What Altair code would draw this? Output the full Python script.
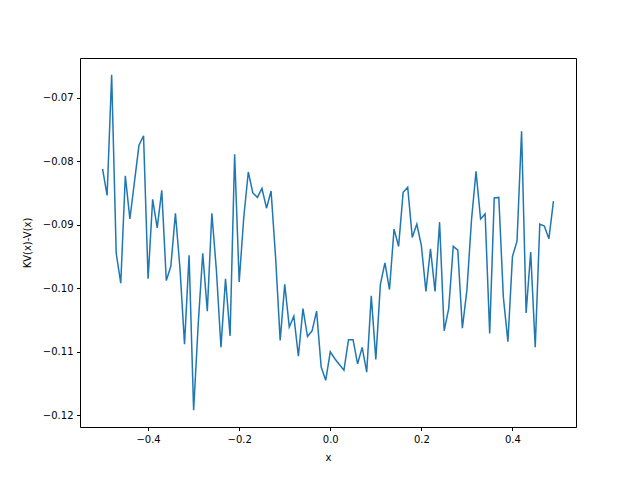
import altair as alt
import pandas as pd

x_vals = [round(-0.5 + 0.01 * i, 2) for i in range(100)]
y_vals = [
    -0.0812, -0.0854, -0.0664, -0.0945, -0.0992, -0.0823, -0.0891, -0.0833, -0.0775, -0.0760,
    -0.0985, -0.0860, -0.0905, -0.0846, -0.0988, -0.0965, -0.0882, -0.0969, -0.1088, -0.0948,
    -0.1192, -0.1057, -0.0945, -0.1036, -0.0882, -0.0972, -0.1093, -0.0985, -0.1075, -0.0789,
    -0.0990, -0.0889, -0.0817, -0.0850, -0.0857, -0.0843, -0.0874, -0.0847, -0.0952, -0.1082,
    -0.0994, -0.1061, -0.1044, -0.1107, -0.1032, -0.1076, -0.1067, -0.1036, -0.1124, -0.1145,
    -0.1100, -0.1111, -0.1120, -0.1129, -0.1081, -0.1081, -0.1119, -0.1093, -0.1132, -0.1012,
    -0.1112, -0.0994, -0.0960, -0.1002, -0.0907, -0.0934, -0.0849, -0.0841, -0.0920, -0.0899,
    -0.0933, -0.1005, -0.0938, -0.1005, -0.0896, -0.1067, -0.1032, -0.0934, -0.0940, -0.1063,
    -0.1003, -0.0893, -0.0816, -0.0891, -0.0883, -0.1071, -0.0858, -0.0857, -0.1014, -0.1084,
    -0.0950, -0.0926, -0.0753, -0.1039, -0.0943, -0.1093, -0.0899, -0.0902, -0.0922, -0.0863,
]
x_ticks = [-0.4, -0.2, 0.0, 0.2, 0.4]
y_ticks = [-0.07, -0.08, -0.09, -0.10, -0.11, -0.12]

df = pd.DataFrame({"x": x_vals, "y": y_vals})

xscale = alt.Scale(domain=[-0.5495, 0.5395], nice=False, zero=False)
yscale = alt.Scale(domain=[-0.12184, -0.06376], nice=False, zero=False)

axis_common = dict(
    tickSize=3.5, tickColor="black", tickWidth=1,
    domain=True, domainColor="black", domainWidth=1, grid=False,
    labelFont="DejaVu Sans", labelFontSize=10, labelColor="black",
    titleFont="DejaVu Sans", titleFontSize=10, titleFontWeight="normal", titleColor="black",
    labelPadding=3.5,
)

main = alt.Chart(df).mark_line(color="#1f77b4", strokeWidth=1.5).encode(
    x=alt.X("x:Q", title="x", scale=xscale,
            axis=alt.Axis(values=x_ticks, titlePadding=8,
                          labelExpr="replace(format(datum.value, '.1f'), '-', '\u2212')",
                          **axis_common)),
    y=alt.Y("y:Q", title="KV(x)-V(x)", scale=yscale,
            axis=alt.Axis(values=y_ticks, titlePadding=10,
                          labelExpr="replace(format(datum.value, '.2f'), '-', '\u2212')",
                          **axis_common)),
)

frame = alt.Chart(df).mark_point(opacity=0, size=0).encode(
    x=alt.X("x:Q", scale=xscale,
            axis=alt.Axis(orient="top", title=None, labels=False, ticks=False,
                          domain=True, domainColor="black", domainWidth=1, grid=False)),
    y=alt.Y("y:Q", scale=yscale,
            axis=alt.Axis(orient="right", title=None, labels=False, ticks=False,
                          domain=True, domainColor="black", domainWidth=1, grid=False)),
)

chart = alt.layer(main, frame).resolve_axis(x="independent", y="independent").properties(
    width=496, height=369,
    autosize=alt.AutoSizeParams(type="none"),
    padding={"left": 72, "top": 50, "right": 56, "bottom": 45},
).configure_view(
    stroke=None
).configure(background="white")

chart.save("out.html", embed_options={"renderer": "svg", "actions": False})
